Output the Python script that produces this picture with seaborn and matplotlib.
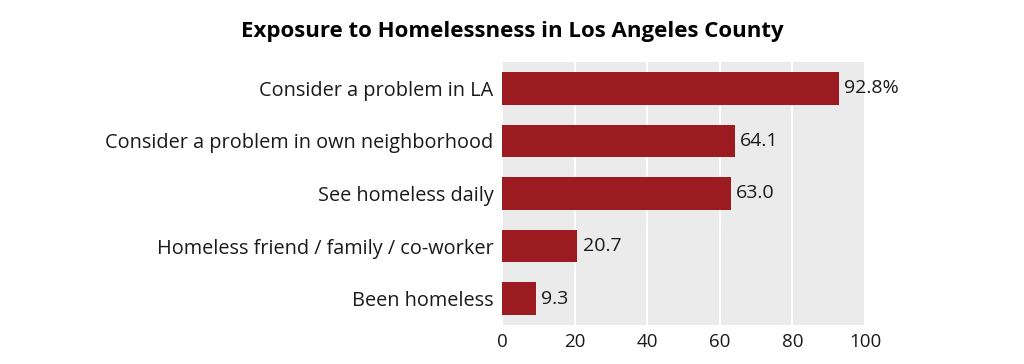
import matplotlib
matplotlib.use("Agg")
import matplotlib.pyplot as plt
import seaborn as sns
import pandas as pd

categories = ["Consider a problem in LA",
              "Consider a problem in own neighborhood",
              "See homeless daily",
              "Homeless friend / family / co-worker",
              "Been homeless"]
values = [92.8, 64.1, 63.0, 20.7, 9.3]
value_labels = ["92.8%", "64.1", "63.0", "20.7", "9.3"]
x_ticks = [0, 20, 40, 60, 80, 100]

df = pd.DataFrame({"category": categories, "value": values})

sns.set_style("darkgrid", {"axes.facecolor": "#ebebeb", "grid.color": "white"})
plt.rcParams["font.family"] = ["Open Sans", "DejaVu Sans"]

fig = plt.figure(figsize=(10.24, 3.64), dpi=100)
ax = fig.add_axes([502 / 1024, 1 - 325 / 364, 363 / 1024, 263 / 364])

sns.barplot(data=df, x="value", y="category", color="#9b1b20", width=0.62,
            saturation=1, linewidth=0, ax=ax)

for i, (v, lab) in enumerate(zip(values, value_labels)):
    ax.text(v + 1.5, i, lab, va="center", ha="left", fontsize=14, color="#1a1a1a")

ax.set_xlim(0, 99.5)
ax.set_xticks(x_ticks)
ax.set_xticklabels([str(t) for t in x_ticks], fontsize=13.5, color="#1a1a1a")
ax.tick_params(axis="y", labelsize=14.3, labelcolor="#1a1a1a", length=0, pad=6)
ax.tick_params(axis="x", length=0, pad=6)
ax.grid(axis="y", visible=False)
ax.grid(axis="x", color="white", linewidth=1.5)
ax.set_xlabel("")
ax.set_ylabel("")
for s in ax.spines.values():
    s.set_visible(False)

fig.text(0.5, 1 - 31 / 364, "Exposure to Homelessness in Los Angeles County",
         ha="center", va="center", fontsize=16, fontweight="bold", color="black")

fig.savefig("out.png", dpi=100)
